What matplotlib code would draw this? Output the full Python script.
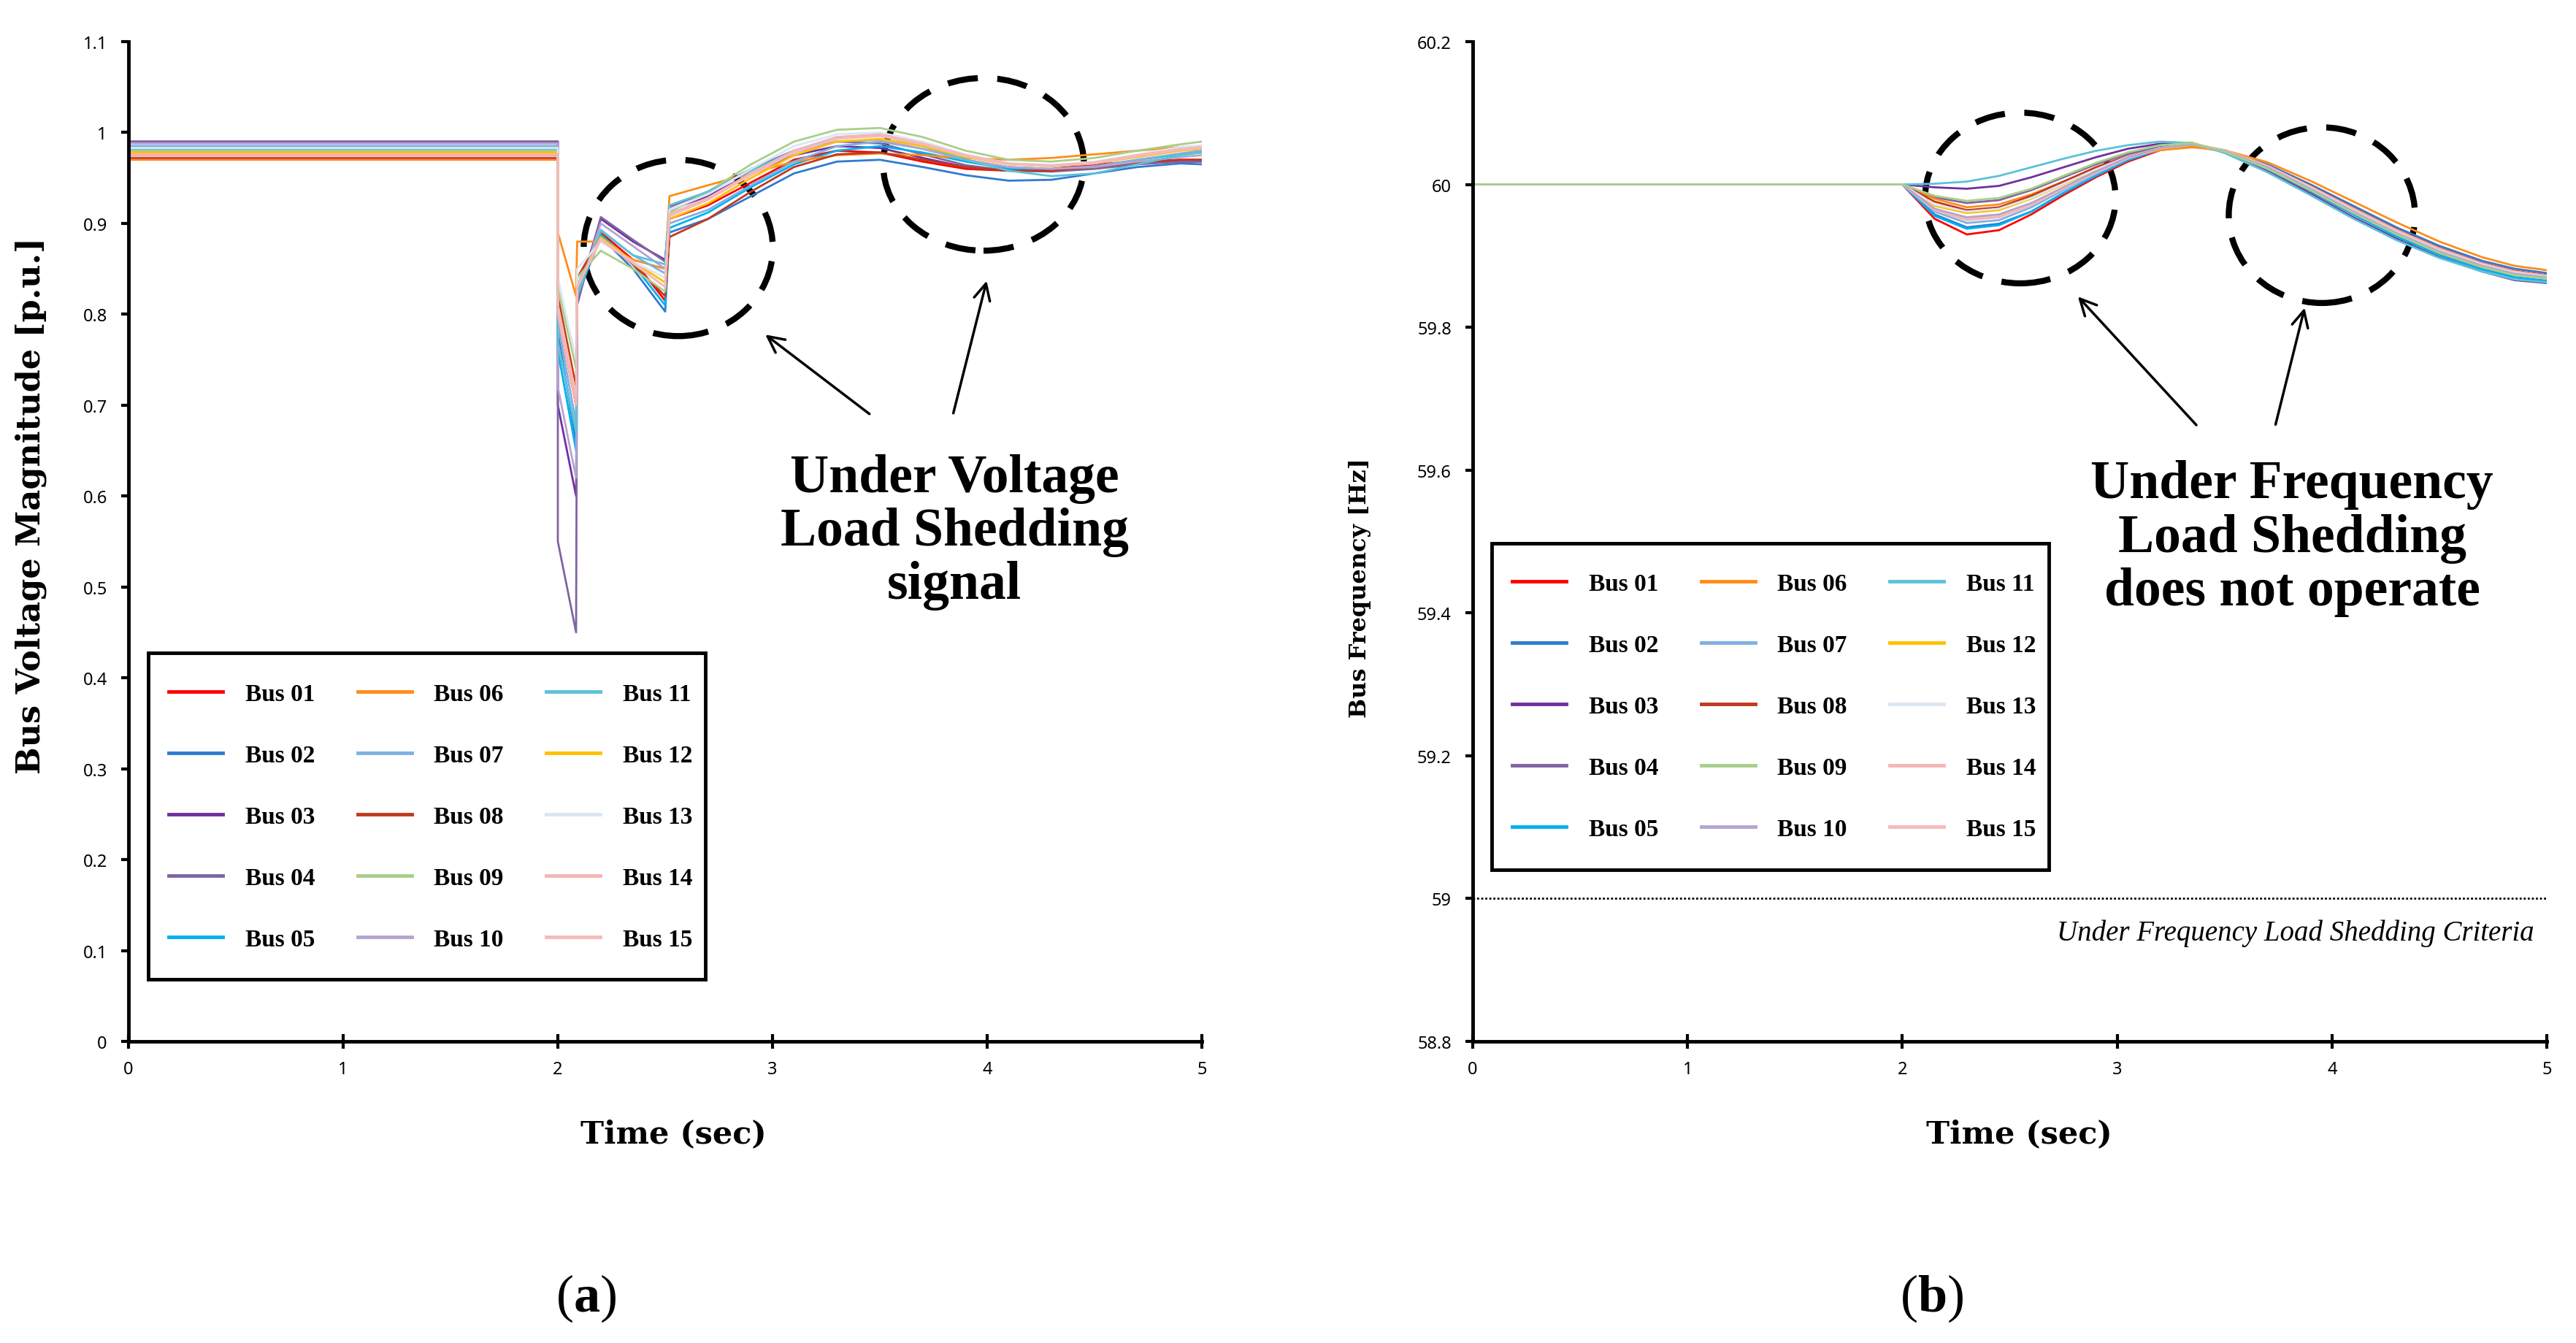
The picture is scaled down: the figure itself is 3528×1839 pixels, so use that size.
import matplotlib
matplotlib.use("Agg")
import matplotlib.pyplot as plt
from matplotlib.patches import Ellipse, Rectangle
from matplotlib.ticker import FuncFormatter

plt.rcParams['font.family'] = ['Liberation Serif', 'DejaVu Serif']
plt.rcParams['mathtext.fontset'] = 'custom'
plt.rcParams['mathtext.bf'] = 'Liberation Serif:bold'
plt.rcParams['mathtext.rm'] = 'Liberation Serif'

# ---- data -----------------------------------------------------------
bus_names = ["Bus %02d" % i for i in range(1, 16)]
bus_colors = ["#FF0000", "#2F7BD0", "#7030A0", "#8064A2", "#00B0F0",
              "#FF8C1A", "#7EB1E3", "#C0391E", "#A9CF8A", "#B4A5CF",
              "#5CC2D8", "#FFC000", "#DCE6F2", "#F4B6B6", "#F6BABA"]

# time grid for the voltage plot (repeated times = step changes)
t_volt = [0, 2.0, 2.0, 2.085, 2.09, 2.2, 2.35, 2.5, 2.52, 2.7, 2.9, 3.1,
          3.3, 3.5, 3.7, 3.9, 4.1, 4.3, 4.5, 4.7, 4.9, 5.0]

v_bus01 = [0.975, 0.975, 0.80, 0.70, 0.83, 0.890, 0.860, 0.815, 0.905, 0.920, 0.945, 0.970, 0.980, 0.978, 0.968, 0.960, 0.958, 0.960, 0.965, 0.968, 0.970, 0.970]
v_bus02 = [0.985, 0.985, 0.78, 0.66, 0.82, 0.885, 0.850, 0.803, 0.890, 0.905, 0.930, 0.955, 0.968, 0.970, 0.962, 0.953, 0.947, 0.948, 0.955, 0.962, 0.966, 0.965]
v_bus03 = [0.990, 0.990, 0.70, 0.60, 0.82, 0.905, 0.880, 0.860, 0.915, 0.930, 0.955, 0.975, 0.985, 0.983, 0.972, 0.962, 0.958, 0.958, 0.962, 0.966, 0.968, 0.968]
v_bus04 = [0.990, 0.990, 0.55, 0.45, 0.81, 0.907, 0.882, 0.858, 0.918, 0.935, 0.960, 0.980, 0.990, 0.988, 0.976, 0.964, 0.958, 0.957, 0.960, 0.965, 0.968, 0.968]
v_bus05 = [0.980, 0.980, 0.76, 0.65, 0.82, 0.888, 0.855, 0.810, 0.895, 0.912, 0.940, 0.965, 0.980, 0.985, 0.978, 0.968, 0.960, 0.958, 0.962, 0.970, 0.976, 0.978]
v_bus06 = [0.970, 0.970, 0.89, 0.82, 0.88, 0.880, 0.860, 0.850, 0.930, 0.942, 0.955, 0.968, 0.975, 0.977, 0.975, 0.972, 0.970, 0.972, 0.976, 0.980, 0.984, 0.985]
v_bus07 = [0.985, 0.985, 0.79, 0.68, 0.83, 0.893, 0.865, 0.845, 0.900, 0.915, 0.942, 0.968, 0.985, 0.990, 0.982, 0.970, 0.962, 0.960, 0.963, 0.970, 0.977, 0.980]
v_bus08 = [0.972, 0.972, 0.82, 0.72, 0.84, 0.885, 0.855, 0.820, 0.885, 0.905, 0.935, 0.962, 0.976, 0.978, 0.970, 0.962, 0.958, 0.958, 0.962, 0.967, 0.970, 0.970]
v_bus09 = [0.980, 0.980, 0.83, 0.74, 0.84, 0.870, 0.850, 0.825, 0.912, 0.935, 0.965, 0.990, 1.003, 1.005, 0.995, 0.980, 0.970, 0.968, 0.972, 0.980, 0.987, 0.990]
v_bus10 = [0.988, 0.988, 0.72, 0.62, 0.82, 0.900, 0.875, 0.850, 0.910, 0.928, 0.955, 0.978, 0.990, 0.992, 0.982, 0.970, 0.962, 0.960, 0.962, 0.968, 0.973, 0.975]
v_bus11 = [0.982, 0.982, 0.77, 0.67, 0.82, 0.892, 0.865, 0.855, 0.920, 0.935, 0.958, 0.980, 0.995, 0.997, 0.985, 0.970, 0.958, 0.952, 0.955, 0.965, 0.975, 0.978]
v_bus12 = [0.978, 0.978, 0.81, 0.71, 0.83, 0.885, 0.858, 0.835, 0.905, 0.922, 0.950, 0.975, 0.990, 0.993, 0.985, 0.973, 0.965, 0.963, 0.966, 0.973, 0.980, 0.982]
v_bus13 = [0.983, 0.983, 0.84, 0.75, 0.85, 0.880, 0.858, 0.840, 0.915, 0.932, 0.960, 0.985, 0.998, 1.000, 0.990, 0.976, 0.966, 0.964, 0.968, 0.976, 0.984, 0.986]
v_bus14 = [0.976, 0.976, 0.80, 0.70, 0.83, 0.882, 0.856, 0.830, 0.910, 0.928, 0.955, 0.980, 0.995, 0.998, 0.988, 0.975, 0.966, 0.964, 0.967, 0.975, 0.982, 0.984]
v_bus15 = [0.974, 0.974, 0.81, 0.71, 0.83, 0.883, 0.857, 0.830, 0.908, 0.926, 0.953, 0.978, 0.993, 0.996, 0.987, 0.974, 0.965, 0.963, 0.966, 0.974, 0.981, 0.983]

# time grid for the frequency plot
t_freq = [0, 2.0, 2.15, 2.3, 2.45, 2.6, 2.75, 2.9, 3.05, 3.2, 3.35, 3.5,
          3.7, 3.9, 4.1, 4.3, 4.5, 4.7, 4.85, 5.0]

f_bus01 = [60, 60, 59.952, 59.930, 59.936, 59.958, 59.985, 60.010, 60.032, 60.048, 60.054, 60.046, 60.024, 59.994, 59.962, 59.931, 59.905, 59.885, 59.875, 59.869]
f_bus02 = [60, 60, 59.958, 59.940, 59.945, 59.962, 59.988, 60.012, 60.034, 60.049, 60.055, 60.048, 60.028, 60.000, 59.970, 59.940, 59.914, 59.893, 59.882, 59.876]
f_bus03 = [60, 60, 59.996, 59.994, 59.998, 60.010, 60.024, 60.038, 60.050, 60.057, 60.058, 60.045, 60.019, 59.987, 59.954, 59.924, 59.898, 59.878, 59.866, 59.862]
f_bus04 = [60, 60, 59.982, 59.974, 59.978, 59.992, 60.010, 60.028, 60.043, 60.053, 60.057, 60.046, 60.021, 59.990, 59.958, 59.928, 59.902, 59.882, 59.870, 59.865]
f_bus05 = [60, 60, 59.956, 59.938, 59.943, 59.962, 59.988, 60.012, 60.034, 60.049, 60.055, 60.046, 60.022, 59.991, 59.958, 59.927, 59.901, 59.881, 59.870, 59.865]
f_bus06 = [60, 60, 59.980, 59.968, 59.972, 59.986, 60.004, 60.022, 60.038, 60.048, 60.052, 60.048, 60.031, 60.005, 59.976, 59.947, 59.920, 59.898, 59.886, 59.880]
f_bus07 = [60, 60, 59.962, 59.946, 59.950, 59.968, 59.992, 60.015, 60.036, 60.050, 60.056, 60.047, 60.025, 59.996, 59.965, 59.935, 59.909, 59.888, 59.877, 59.872]
f_bus08 = [60, 60, 59.976, 59.964, 59.968, 59.984, 60.004, 60.024, 60.040, 60.051, 60.055, 60.047, 60.026, 59.998, 59.967, 59.937, 59.911, 59.890, 59.879, 59.873]
f_bus09 = [60, 60, 59.984, 59.977, 59.981, 59.994, 60.012, 60.030, 60.045, 60.055, 60.058, 60.046, 60.022, 59.992, 59.960, 59.930, 59.904, 59.884, 59.873, 59.868]
f_bus10 = [60, 60, 59.966, 59.954, 59.958, 59.974, 59.996, 60.018, 60.038, 60.051, 60.056, 60.047, 60.024, 59.994, 59.962, 59.932, 59.906, 59.886, 59.875, 59.870]
f_bus11 = [60, 60, 60.001, 60.004, 60.012, 60.024, 60.036, 60.047, 60.055, 60.060, 60.058, 60.044, 60.017, 59.985, 59.952, 59.922, 59.897, 59.878, 59.867, 59.863]
f_bus12 = [60, 60, 59.970, 59.960, 59.964, 59.980, 60.000, 60.020, 60.038, 60.050, 60.055, 60.047, 60.025, 59.996, 59.964, 59.934, 59.908, 59.888, 59.877, 59.871]
f_bus13 = [60, 60, 59.972, 59.962, 59.966, 59.981, 60.001, 60.021, 60.039, 60.051, 60.056, 60.047, 60.024, 59.995, 59.963, 59.933, 59.907, 59.887, 59.876, 59.871]
f_bus14 = [60, 60, 59.964, 59.950, 59.954, 59.971, 59.994, 60.016, 60.037, 60.051, 60.057, 60.048, 60.026, 59.997, 59.966, 59.936, 59.910, 59.889, 59.878, 59.872]
f_bus15 = [60, 60, 59.965, 59.952, 59.956, 59.972, 59.995, 60.017, 60.037, 60.051, 60.057, 60.048, 60.026, 59.997, 59.966, 59.936, 59.910, 59.889, 59.878, 59.872]

volt_series = [v_bus01, v_bus02, v_bus03, v_bus04, v_bus05, v_bus06, v_bus07, v_bus08,
               v_bus09, v_bus10, v_bus11, v_bus12, v_bus13, v_bus14, v_bus15]
freq_series = [f_bus01, f_bus02, f_bus03, f_bus04, f_bus05, f_bus06, f_bus07, f_bus08,
               f_bus09, f_bus10, f_bus11, f_bus12, f_bus13, f_bus14, f_bus15]

x_ticks = [0, 1, 2, 3, 4, 5]
v_ticks = [0, 0.1, 0.2, 0.3, 0.4, 0.5, 0.6, 0.7, 0.8, 0.9, 1.0, 1.1]
f_ticks = [58.8, 59.0, 59.2, 59.4, 59.6, 59.8, 60.0, 60.2]
ufls_criteria = 59.0

# ---- figure ---------------------------------------------------------
W, H = 3528, 1840
fig = plt.figure(figsize=(W / 100, H / 100), dpi=100)
ax1 = fig.add_axes([176 / W, 1 - 1427 / H, 1470 / W, 1369 / H])
ax2 = fig.add_axes([2017 / W, 1 - 1427 / H, 1471 / W, 1369 / H])

v_lines = []
for name, col, vals in zip(bus_names, bus_colors, volt_series):
    v_lines += ax1.plot(t_volt, vals, color=col, lw=2.0, label=name)

# pale green trace ends up on top in the frequency plot
f_lines = []
for i, (name, col, vals) in enumerate(zip(bus_names, bus_colors, freq_series)):
    z = {8: 2.3, 9: 2.2, 12: 2.1}.get(i, 2)
    f_lines += ax2.plot(t_freq, vals, color=col, lw=2.0, label=name, zorder=z)

ax2.axhline(ufls_criteria, color="black", lw=2, linestyle=(0, (1, 1)))
ax2.text(4.94, 58.952, "Under Frequency Load Shedding Criteria", ha="right",
         va="center", fontsize=28, style="italic")


def style_axes(ax, yticks, ylim):
    ax.set_xlim(0, 5)
    ax.set_ylim(*ylim)
    ax.set_xticks(x_ticks)
    ax.set_yticks(yticks)
    ax.yaxis.set_major_formatter(FuncFormatter(lambda v, p: f"{v:g}"))
    for s in ["top", "right"]:
        ax.spines[s].set_visible(False)
    for s in ["left", "bottom"]:
        ax.spines[s].set_linewidth(3.5)
    ax.tick_params(axis="y", direction="out", length=7, width=3, pad=14,
                   labelsize=17, labelfontfamily="Noto Sans")
    ax.tick_params(axis="x", direction="inout", length=14, width=3, pad=12,
                   labelsize=17, labelfontfamily="Noto Sans")
    for lbl in ax.get_xticklabels() + ax.get_yticklabels():
        lbl.set_fontweight("bold")


style_axes(ax1, v_ticks, (0, 1.1))
style_axes(ax2, f_ticks, (58.8, 60.2))

# legends (frame drawn separately so the inner padding can be matched)
legend_specs = [(ax1, v_lines, 231, 936, 203, 895),
                (ax2, f_lines, 2071, 785, 2043, 745)]
for ax, handles, hx, hy, fx, fy in legend_specs:
    leg = ax.legend(handles=handles, ncol=3, loc="upper left",
                    bbox_to_anchor=(hx / W, 1 - hy / H),
                    bbox_transform=fig.transFigure, frameon=False,
                    prop={"family": "Liberation Serif", "weight": "bold", "size": 24},
                    handlelength=2.22, handletextpad=0.93, columnspacing=1.74,
                    labelspacing=1.59, borderpad=0, borderaxespad=0)
    for ln in leg.get_lines():
        ln.set_linewidth(3.5)
    fig.add_artist(Rectangle((fx / W, 1 - (fy + 447) / H), 763 / W, 447 / H,
                             transform=fig.transFigure, fill=False,
                             lw=3.5, ec="black", zorder=5))

# dashed circles
circ_style = dict(fill=False, edgecolor="black", lw=6, linestyle=(0, (5, 3.2)))
ax1.add_patch(Ellipse((2.561, 0.873), 0.881, 0.194, **circ_style))
ax1.add_patch(Ellipse((3.983, 0.965), 0.935, 0.190, **circ_style))
ax2.add_patch(Ellipse((2.549, 59.981), 0.887, 0.239, **circ_style))
ax2.add_patch(Ellipse((3.953, 59.957), 0.867, 0.246, **circ_style))

# arrows
arr = dict(arrowstyle="->", lw=2.5, color="black", mutation_scale=40)
ax1.annotate("", xy=(2.959, 0.779), xytext=(3.459, 0.689), arrowprops=arr)
ax1.annotate("", xy=(4.0, 0.839), xytext=(3.840, 0.689), arrowprops=arr)
ax2.annotate("", xy=(2.811, 59.845), xytext=(3.375, 59.661), arrowprops=arr)
ax2.annotate("", xy=(3.875, 59.830), xytext=(3.735, 59.661), arrowprops=arr)

ax1.text(3.847, 0.561, "Under Voltage\nLoad Shedding\nsignal", ha="center",
         va="center", fontsize=53, fontweight="bold", linespacing=1.1)
ax2.text(3.814, 59.505, "Under Frequency\nLoad Shedding\ndoes not operate",
         ha="center", va="center", fontsize=53, fontweight="bold", linespacing=1.1)

# axis labels
fig.text(42 / W, 1 - 692 / H, "Bus Voltage Magnitude [p.u.]", rotation=90,
         ha="center", va="center", fontsize=32, fontweight="bold",
         family="DejaVu Serif")
fig.text(1863 / W, 1 - 805 / H, "Bus Frequency [Hz]", rotation=90,
         ha="center", va="center", fontsize=23, fontweight="bold",
         family="DejaVu Serif")
fig.text(922 / W, 1 - 1553 / H, "Time (sec)", ha="center", va="center",
         fontsize=31, fontweight="bold", family="DejaVu Serif")
fig.text(2765 / W, 1 - 1553 / H, "Time (sec)", ha="center", va="center",
         fontsize=31, fontweight="bold", family="DejaVu Serif")

fig.text(803 / W, 1 - 1778 / H, r"($\mathbf{a}$)", ha="center", va="center",
         fontsize=52)
fig.text(2646 / W, 1 - 1778 / H, r"($\mathbf{b}$)", ha="center", va="center",
         fontsize=52)

fig.savefig("out.png", dpi=100, facecolor="white")
